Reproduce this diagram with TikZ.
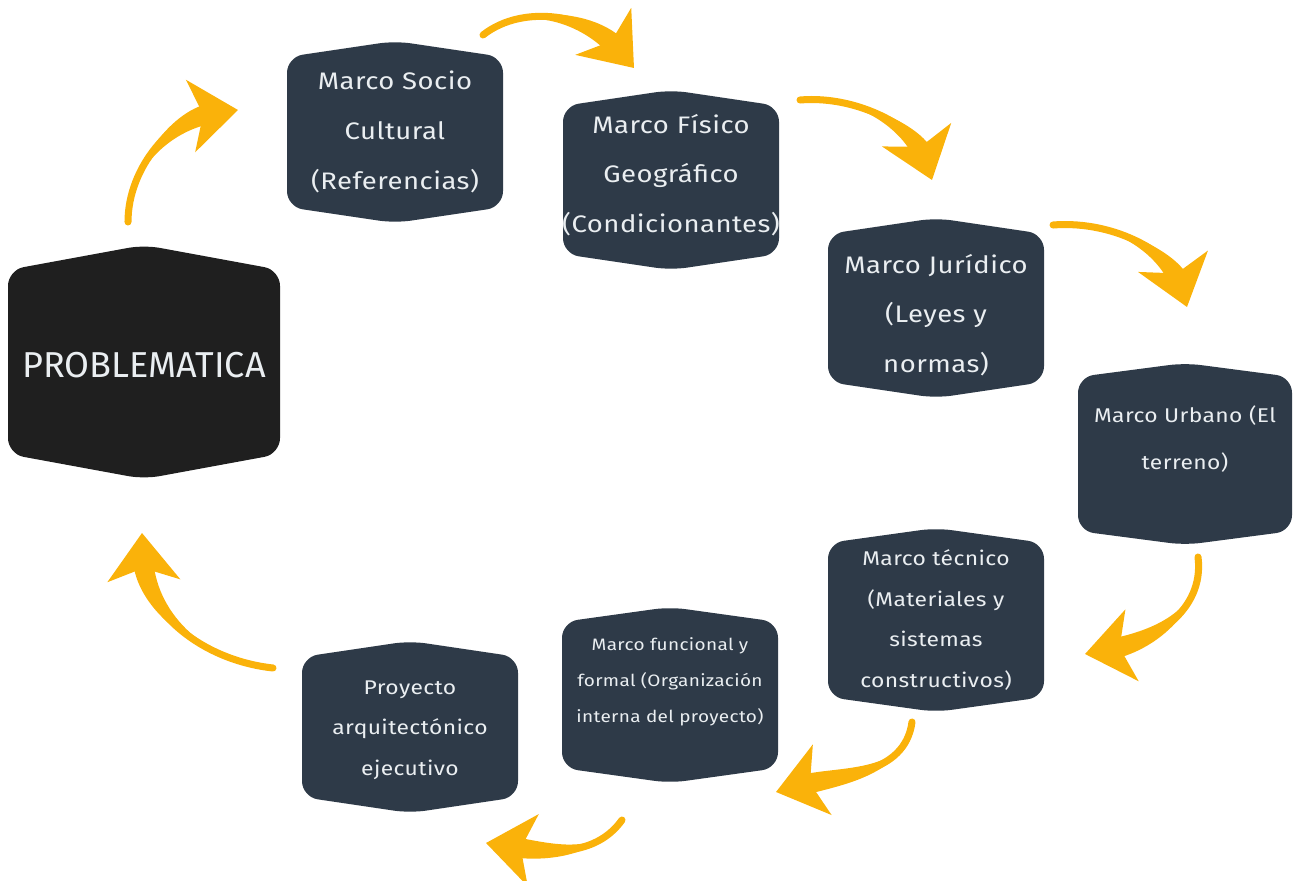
\documentclass[tikz,border=0pt]{standalone}
\usepackage{fontspec}
\setmainfont{Fira Sans}
\newfontfamily\boxfont[FakeStretch=1.15,LetterSpace=2]{Fira Sans}
\usetikzlibrary{arrows.meta,calc}

\definecolor{slate}{HTML}{2E3A48}
\definecolor{ink}{HTML}{1F1F1F}
\definecolor{amber}{HTML}{FAB20A}
\definecolor{paper}{HTML}{EAEEF1}

\tikzset{
  lbl/.style={text=paper, align=center, inner sep=0pt},
  lg/.style={lbl, font=\boxfont\fontsize{13.6}{28.3}\selectfont},
  md/.style={lbl, font=\boxfont\fontsize{11.3}{23}\selectfont},
  sm/.style={lbl, font=\boxfont\fontsize{9.4}{20.4}\selectfont},
  flowcore/.style={amber, line width=4pt, line cap=round,
    -{Stealth[length=27pt,width=41pt,inset=7pt]}},
}

% hexagonal card: centre x, centre y, half width, half height, peak, colour
\newcommand\hexcard[6]{%
  \fill[#6, rounded corners=9pt]
    (#1-#3,#2-#4) -- (#1,#2-#4-#5) -- (#1+#3,#2-#4) --
    (#1+#3,#2+#4) -- (#1,#2+#4+#5) -- (#1-#3,#2+#4) -- cycle;}

% curved arrow whose body widens towards the head:
% start, first control, second control, end (all named coordinates)
\newcommand\flowarrow[4]{%
  \coordinate (fa-e) at ($(#4)!14pt!(#3)$);
  \coordinate (fa-l) at ($(fa-e)!5.8pt!90:(#3)$);
  \coordinate (fa-r) at ($(fa-e)!5.8pt!-90:(#3)$);
  \fill[amber] (#1) .. controls (#2) and ($(#3)+(fa-l)-(fa-e)$) .. (fa-l)
    -- (fa-r) .. controls ($(#3)+(fa-r)-(fa-e)$) and (#2) .. (#1) -- cycle;
  \draw[flowcore] (#1) .. controls (#2) and (#3) .. (#4);}

\begin{document}
\begin{tikzpicture}[x=0.02cm, y=-0.02cm]
\useasboundingbox (0,0) rectangle (1295,881);

% cards
\hexcard{395}{132}{108}{75}{16}{slate}
\hexcard{671}{180}{108}{74}{16}{slate}
\hexcard{936}{308}{108}{74}{16}{slate}
\hexcard{1185}{454}{107}{77}{14}{slate}
\hexcard{936}{620}{108}{77}{15}{slate}
\hexcard{670}{695}{108}{73}{15}{slate}
\hexcard{410}{727}{108}{70}{16}{slate}
\hexcard{144}{362}{136}{92}{25}{ink}

% labels
\node[lg] (soc) at (395,132) {Marco Socio\\Cultural\\(Referencias)};
\node[lg] (fis) at (671,175) {Marco Físico\\Geográfico\\(Condicionantes)};
\node[lg] (jur) at (936,315) {Marco Jurídico\\(Leyes y\\normas)};
\node[lbl, font=\boxfont\fontsize{11.3}{27.2}\selectfont] (urb) at (1185,439)
  {Marco Urbano (El\\terreno)};
\node[md] (tec) at (936,620) {Marco técnico\\(Materiales y\\sistemas\\constructivos)};
\node[sm] (fun) at (670,682) {Marco funcional y\\formal (Organización\\interna del proyecto)};
\node[md] (pro) at (410,730) {Proyecto\\arquitectónico\\ejecutivo};
\node[lbl, font=\fontsize{20.5}{24}\selectfont] (prob) at (144,365) {PROBLEMATICA};

% arrow end points and bends
\coordinate (a1s) at (128,222);  \coordinate (a1p) at (128,165);
\coordinate (a1q) at (175,118);  \coordinate (a1e) at (238,110);
\coordinate (a2s) at (483,35);   \coordinate (a2p) at (525,2);
\coordinate (a2q) at (592,18);   \coordinate (a2e) at (634,68);
\coordinate (a3s) at (800,100);  \coordinate (a3p) at (860,95);
\coordinate (a3q) at (915,130);  \coordinate (a3e) at (932,180);
\coordinate (a4s) at (1053,225); \coordinate (a4p) at (1120,220);
\coordinate (a4q) at (1172,258); \coordinate (a4e) at (1187,307);
\coordinate (a5s) at (1198,557); \coordinate (a5p) at (1205,612);
\coordinate (a5q) at (1150,642); \coordinate (a5e) at (1085,654);
\coordinate (a6s) at (912,722);  \coordinate (a6p) at (905,775);
\coordinate (a6q) at (840,775);  \coordinate (a6e) at (776,792);
\coordinate (a7s) at (622,820);  \coordinate (a7p) at (595,858);
\coordinate (a7q) at (545,852);  \coordinate (a7e) at (486,843);
\coordinate (a8s) at (273,668);  \coordinate (a8p) at (200,660);
\coordinate (a8q) at (145,610);  \coordinate (a8e) at (142,533);

% cycle arrows
\flowarrow{a1s}{a1p}{a1q}{a1e}
\flowarrow{a2s}{a2p}{a2q}{a2e}
\flowarrow{a3s}{a3p}{a3q}{a3e}
\flowarrow{a4s}{a4p}{a4q}{a4e}
\flowarrow{a5s}{a5p}{a5q}{a5e}
\flowarrow{a6s}{a6p}{a6q}{a6e}
\flowarrow{a7s}{a7p}{a7q}{a7e}
\flowarrow{a8s}{a8p}{a8q}{a8e}
\end{tikzpicture}
\end{document}
